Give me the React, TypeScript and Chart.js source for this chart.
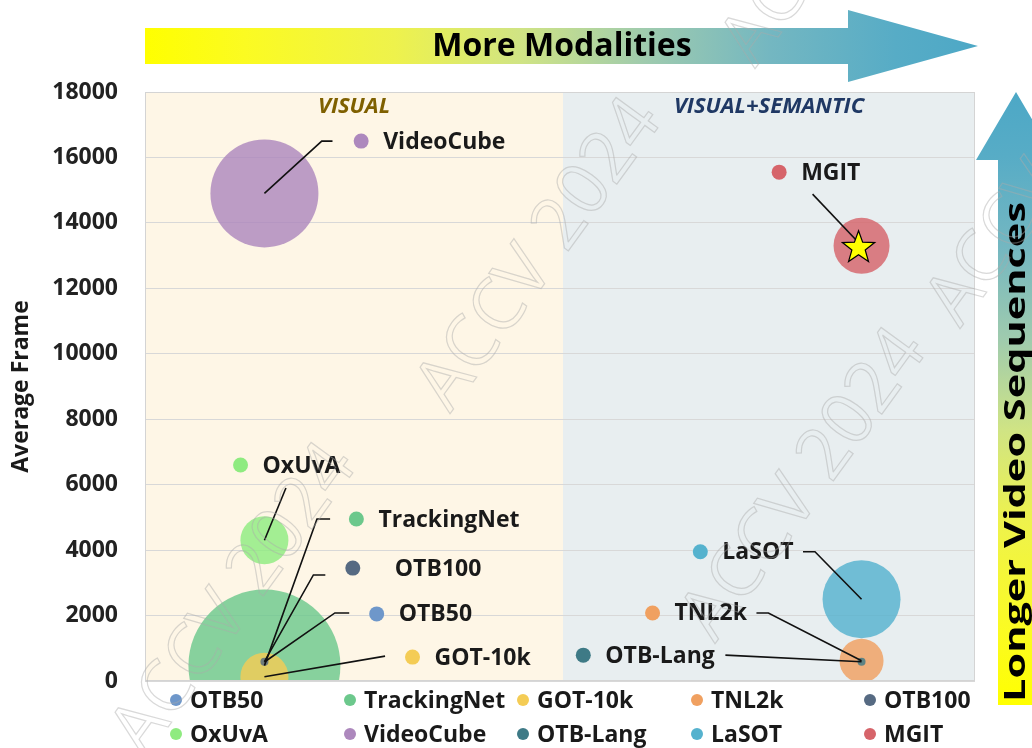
import React, { useEffect, useRef } from "react";
import { Chart, registerables } from "chart.js";

Chart.register(...registerables);

// ---------------- data ----------------
const datasetNames = ["OTB50", "TrackingNet", "GOT-10k", "TNL2k", "OTB100", "OxUvA", "VideoCube", "OTB-Lang", "LaSOT", "MGIT"];
const modalityPosition = [1, 1, 1, 6, 1, 1, 1, 6, 6, 6];
const averageFrame = [580, 470, 130, 620, 590, 4300, 14900, 590, 2500, 13300];
const bubbleSize = [4, 76, 24, 22, 4, 24, 54, 4, 39, 28];
const seriesColors = ["#6E97CA", "#6CC88C", "#F4CC55", "#F0A060", "#566A82", "#8FEB80", "#AD88BD", "#3E7A86", "#55B2CE", "#D6646A"];

const yMin = 0;
const yMax = 18000;
const yStep = 2000;
const xMin = 0;
const xMax = 6.95;

const regionNames = ["VISUAL", "VISUAL+SEMANTIC"];
const regionStart = [0, 3.5];
const regionEnd = [3.5, 6.95];
const regionFill = ["#FEF6E6", "#E8EEF0"];
const regionTitleColor = ["#7F6000", "#1F3864"];

// data-label anchors (in data units)
const labelDotX = [1.94, 1.77, 2.24, 4.25, 1.74, 0.8, 1.81, 3.67, 4.65, 5.31];
const labelDotY = [2050, 4950, 730, 2080, 3450, 6600, 16500, 790, 3950, 15550];
const labelGap = [22, 22, 22, 22, 42, 22, 22, 22, 22, 22];
const leaderX = [[1.71, 1.59], [1.55, 1.44], [2.01], [5.12, 5.22], [1.51, 1.41], [1.18], [1.57, 1.48], [4.86], [5.51, 5.61], [5.59]];
const leaderY = [[2080, 2080], [4950, 4950], [760], [2080, 2080], [3240, 3240], [5900], [16500, 16500], [790], [3950, 3950], [14880]];

const topArrowText = "More Modalities";
const sideArrowText = "Longer Video Sequences";
const yAxisTitle = "Average Frame";
const starSeries = "MGIT";
const watermarkText = "ACCV 2024";

const FONT = "'Open Sans', 'Noto Sans', sans-serif";

function hexToRgba(hex: string, a: number) {
  const n = parseInt(hex.slice(1), 16);
  return `rgba(${(n >> 16) & 255},${(n >> 8) & 255},${n & 255},${a})`;
}

function arrowGradient(ctx: CanvasRenderingContext2D, x0: number, y0: number, x1: number, y1: number) {
  const g = ctx.createLinearGradient(x0, y0, x1, y1);
  g.addColorStop(0, "#FFFF00");
  g.addColorStop(0.12, "#FBFB22");
  g.addColorStop(0.3, "#EEF24C");
  g.addColorStop(0.45, "#D0E484");
  g.addColorStop(0.6, "#9FCBAE");
  g.addColorStop(0.75, "#74B7C1");
  g.addColorStop(0.9, "#57ACC6");
  g.addColorStop(1, "#4DA8C6");
  return g;
}

function drawStar(ctx: CanvasRenderingContext2D, cx: number, cy: number, R: number, r: number) {
  ctx.beginPath();
  for (let i = 0; i < 10; i++) {
    const ang = -Math.PI / 2 + (i * Math.PI) / 5;
    const rad = i % 2 === 0 ? R : r;
    const px = cx + rad * Math.cos(ang);
    const py = cy + rad * Math.sin(ang);
    if (i === 0) ctx.moveTo(px, py);
    else ctx.lineTo(px, py);
  }
  ctx.closePath();
  ctx.fillStyle = "#FFFF00";
  ctx.fill();
  ctx.lineWidth = 1.2;
  ctx.strokeStyle = "#000";
  ctx.stroke();
}

const decorPlugin = {
  id: "decor",
  beforeDraw(chart: any) {
    const { ctx, chartArea: a, scales } = chart;
    const xs = scales.x;
    ctx.save();
    ctx.fillStyle = "#FFFFFF";
    ctx.fillRect(0, 0, chart.width, chart.height);
    regionNames.forEach((_, i) => {
      const p0 = xs.getPixelForValue(regionStart[i]);
      const p1 = xs.getPixelForValue(regionEnd[i]);
      ctx.fillStyle = regionFill[i];
      ctx.fillRect(p0, a.top, p1 - p0, a.bottom - a.top);
    });
    ctx.restore();
  },
  afterDatasetsDraw(chart: any) {
    const { ctx, chartArea: a, scales } = chart;
    const xs = scales.x;
    const ys = scales.y;
    ctx.save();
    // frame
    ctx.strokeStyle = "#D4D4D4";
    ctx.lineWidth = 1;
    ctx.strokeRect(a.left + 0.5, a.top + 0.5, a.right - a.left - 1, a.bottom - a.top - 1);

    // region titles
    ctx.font = `italic bold 22px ${FONT}`;
    ctx.textAlign = "center";
    ctx.textBaseline = "middle";
    regionNames.forEach((name, i) => {
      const cx = (xs.getPixelForValue(regionStart[i]) + xs.getPixelForValue(regionEnd[i])) / 2;
      ctx.fillStyle = regionTitleColor[i];
      ctx.fillText(name, cx, a.top + 15);
    });

    // leader lines
    ctx.strokeStyle = "#111";
    ctx.lineWidth = 1.6;
    datasetNames.forEach((name, i) => {
      ctx.beginPath();
      leaderX[i].forEach((lx, k) => {
        const px = xs.getPixelForValue(lx);
        const py = ys.getPixelForValue(leaderY[i][k]);
        if (k === 0) ctx.moveTo(px, py);
        else ctx.lineTo(px, py);
      });
      ctx.lineTo(xs.getPixelForValue(modalityPosition[i]), ys.getPixelForValue(averageFrame[i]));
      ctx.stroke();
    });

    // star on highlighted series
    const si = datasetNames.indexOf(starSeries);
    drawStar(ctx, xs.getPixelForValue(modalityPosition[si]) - 3, ys.getPixelForValue(averageFrame[si]) + 2, 17, 7);

    // data labels
    ctx.font = `bold 23px ${FONT}`;
    ctx.textAlign = "left";
    ctx.textBaseline = "middle";
    datasetNames.forEach((name, i) => {
      const px = xs.getPixelForValue(labelDotX[i]);
      const py = ys.getPixelForValue(labelDotY[i]);
      ctx.fillStyle = seriesColors[i];
      ctx.beginPath();
      ctx.arc(px, py, 7.5, 0, Math.PI * 2);
      ctx.fill();
      ctx.fillStyle = "#1A1A1A";
      ctx.fillText(name, px + labelGap[i], py + 1);
    });
    ctx.restore();
  },
  afterDraw(chart: any) {
    const { ctx } = chart;
    ctx.save();
    // top arrow
    ctx.fillStyle = arrowGradient(ctx, 145, 0, 978, 0);
    ctx.beginPath();
    ctx.moveTo(145, 28);
    ctx.lineTo(848, 28);
    ctx.lineTo(848, 10);
    ctx.lineTo(978, 46);
    ctx.lineTo(848, 82);
    ctx.lineTo(848, 64);
    ctx.lineTo(145, 64);
    ctx.closePath();
    ctx.fill();
    ctx.fillStyle = "#000";
    ctx.font = `bold 32px ${FONT}`;
    ctx.textAlign = "center";
    ctx.textBaseline = "middle";
    ctx.fillText(topArrowText, 562, 47);

    // side arrow
    ctx.fillStyle = arrowGradient(ctx, 0, 705, 0, 95);
    ctx.beginPath();
    ctx.moveTo(998, 705);
    ctx.lineTo(998, 160);
    ctx.lineTo(976, 160);
    ctx.lineTo(1016, 92);
    ctx.lineTo(1056, 160);
    ctx.lineTo(1034, 160);
    ctx.lineTo(1034, 705);
    ctx.closePath();
    ctx.fill();
    ctx.save();
    ctx.translate(1017, 452);
    ctx.rotate(-Math.PI / 2);
    ctx.font = `bold 28px ${FONT}`;
    const w = ctx.measureText(sideArrowText).width;
    ctx.scale(500 / w, 1);
    ctx.fillStyle = "#000";
    ctx.textAlign = "center";
    ctx.textBaseline = "middle";
    ctx.fillText(sideArrowText, 0, 0);
    ctx.restore();

    // legend
    const colX = [176, 350, 523, 697, 870];
    const rowY = [700, 734];
    ctx.font = `bold 23px ${FONT}`;
    ctx.textAlign = "left";
    ctx.textBaseline = "middle";
    chart.data.datasets.forEach((ds: any, i: number) => {
      const cx = colX[i % 5];
      const cy = rowY[Math.floor(i / 5)];
      ctx.fillStyle = seriesColors[i];
      ctx.beginPath();
      ctx.arc(cx, cy, 6, 0, Math.PI * 2);
      ctx.fill();
      ctx.fillStyle = "#1A1A1A";
      ctx.fillText(ds.label, cx + 14, cy + 1);
    });

    // watermark
    const marks = [
      [540, 255],
      [805, 485],
      [235, 600],
      [845, -90],
      [1050, 170],
    ];
    ctx.font = `72px ${FONT}`;
    ctx.textAlign = "center";
    ctx.textBaseline = "middle";
    ctx.strokeStyle = "rgba(170,170,170,0.45)";
    ctx.lineWidth = 1.2;
    marks.forEach(([mx, my]) => {
      ctx.save();
      ctx.translate(mx, my);
      ctx.rotate((-54 * Math.PI) / 180);
      ctx.strokeText(watermarkText, 0, 0);
      ctx.restore();
    });
    ctx.restore();
  },
};

export default function App() {
  const ref = useRef<HTMLCanvasElement | null>(null);
  useEffect(() => {
    if (!ref.current) return;
    const chart = new Chart(ref.current, {
      type: "bubble",
      data: {
        datasets: datasetNames.map((name, i) => ({
          label: name,
          data: [{ x: modalityPosition[i], y: averageFrame[i], r: bubbleSize[i] }],
          backgroundColor: hexToRgba(seriesColors[i], 0.82),
          borderWidth: 0,
          order: datasetNames.length - i,
        })),
      },
      options: {
        responsive: false,
        animation: false,
        events: [],
        layout: { autoPadding: false, padding: { top: 92, right: 57, bottom: 67, left: 0 } },
        plugins: { legend: { display: false }, tooltip: { enabled: false } },
        scales: {
          x: { type: "linear", min: xMin, max: xMax, display: false },
          y: {
            type: "linear",
            min: yMin,
            max: yMax,
            afterFit: (s: any) => {
              s.width = 145;
            },
            ticks: {
              stepSize: yStep,
              padding: 27,
              color: "#222",
              font: { family: FONT, weight: "bold", size: 23 },
              callback: (v: any) => String(v),
            },
            grid: { color: "#D8D8D8", drawTicks: false, lineWidth: 1 },
            border: { display: false },
            title: {
              display: true,
              text: yAxisTitle,
              color: "#1A1A1A",
              font: { family: FONT, weight: "bold", size: 23 },
              padding: { top: 8, bottom: 0 },
            },
          },
        },
      },
      plugins: [decorPlugin],
    } as any);
    return () => chart.destroy();
  }, []);
  return (
    <div style={{ position: "fixed", left: 0, top: 0, width: 1032, height: 748, background: "#fff" }}>
      <canvas ref={ref} width={1032} height={748} style={{ width: 1032, height: 748, display: "block" }} />
    </div>
  );
}
